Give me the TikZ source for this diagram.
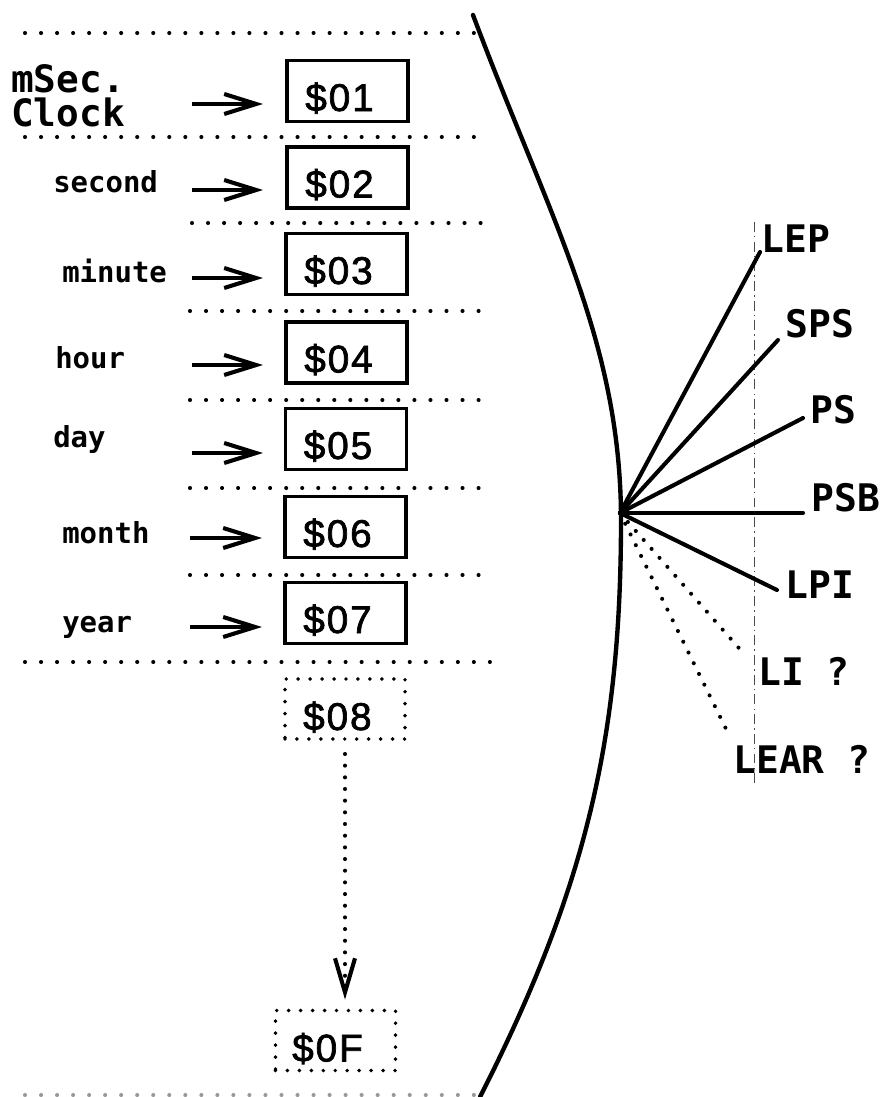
\documentclass[tikz,border=0pt]{standalone}
\usepackage{fontspec}
\newfontfamily\monof{DejaVu Sans Mono}
\newfontfamily\boxf[FakeBold=1.8,LetterSpace=5]{Liberation Sans}
\usetikzlibrary{arrows.meta}
\begin{document}
\begin{tikzpicture}[x=0.025cm,y=-0.025cm,
  sep/.style={line width=2.9pt, dash pattern=on 0pt off 11.4pt, line cap=round},
  regbox/.style={draw, line width=2.8pt, minimum width=3.025cm, minimum height=1.525cm,
     inner sep=0pt, text height=1.0cm, text depth=0pt, font=\boxf\fontsize{27.5}{30}\selectfont},
  dotbox/.style={draw, line width=2.8pt, dash pattern=on 0pt off 8.5pt, line cap=round,
     minimum width=3.0cm, minimum height=1.5cm,
     inner sep=0pt, text height=1.05cm, text depth=0pt, font=\boxf\fontsize{27.5}{30}\selectfont},
  lbl/.style={anchor=base west, inner sep=0pt, font=\monof\bfseries\fontsize{20.6}{24}\selectfont},
  clk/.style={anchor=base west, inner sep=0pt, font=\monof\bfseries\fontsize{26.8}{28}\selectfont},
  arr/.style={line width=2.9pt, -{Straight Barb[length=0.8cm,width=0.5cm,line width=2.9pt]}},
  fan/.style={line width=2.9pt, line cap=round},
  fandot/.style={line width=2.9pt, dash pattern=on 0pt off 8.5pt, line cap=round},
  flbl/.style={anchor=base west, inner sep=0pt, font=\monof\bfseries\fontsize{27}{30}\selectfont}
]
\useasboundingbox (0,0) rectangle (885,1097);

% separators
\draw[sep] (25,33) -- (475,33);
\draw[sep] (25,137) -- (475,137);
\draw[sep] (192,223) -- (487,223);
\draw[sep] (190,311) -- (485,311);
\draw[sep] (190,400) -- (485,400);
\draw[sep] (190,488) -- (485,488);
\draw[sep] (190,575) -- (485,575);
\draw[sep] (25,662) -- (493,662);
\draw[sep, draw=black!40] (25,1095) -- (475,1095);

% big arc
\draw[line width=3.1pt, line cap=round]
  (473,15) .. controls (548,215) and (621,340) .. (621,520)
           .. controls (621,740) and (585,890) .. (480,1097);

% registers
\node[regbox] (b1) at (347.5,91)  {\$01\rule{0.4cm}{0pt}};
\node[regbox] (b2) at (347.5,177.5) {\$02\rule{0.4cm}{0pt}};
\node[regbox] (b3) at (346.5,264) {\$03\rule{0.4cm}{0pt}};
\node[regbox] (b4) at (346.5,352.5) {\$04\rule{0.4cm}{0pt}};
\node[regbox] (b5) at (346,439)   {\$05\rule{0.4cm}{0pt}};
\node[regbox] (b6) at (345.5,527) {\$06\rule{0.4cm}{0pt}};
\node[regbox] (b7) at (345.5,613) {\$07\rule{0.4cm}{0pt}};
\node[dotbox] (b8) at (345,709)   {\$08\rule{0.38cm}{0pt}};
\node[dotbox] (bF) at (335.5,1040.5) {\$0F\rule{0.4cm}{0pt}};

% labels
\node[clk] (lm) at (11,93) {mSec.};
\node[clk] (lc) at (11,127) {Clock};
\node[lbl] (l2) at (53,193) {second};
\node[lbl] (l3) at (62,282) {minute};
\node[lbl] (l4) at (55,368) {hour};
\node[lbl] (l5) at (53,447) {day};
\node[lbl] (l6) at (62,543) {month};
\node[lbl] (l7) at (62,632) {year};

% arrows
\coordinate (s1) at (192,104); \coordinate (t1) at (263,104);
\coordinate (s2) at (192,190); \coordinate (t2) at (263,190);
\coordinate (s3) at (192,278); \coordinate (t3) at (263,278);
\coordinate (s4) at (192,365); \coordinate (t4) at (263,365);
\coordinate (s5) at (192,453); \coordinate (t5) at (263,453);
\coordinate (s6) at (190,538); \coordinate (t6) at (262,538);
\coordinate (s7) at (190,627); \coordinate (t7) at (262,627);
\foreach \i in {1,...,7} {\draw[arr] (s\i) -- (t\i);}

% dotted connector
\draw[line width=2.9pt, dash pattern=on 0pt off 8.3pt, line cap=round,
      shorten <=0.325cm, shorten >=0.225cm,
      -{Straight Barb[length=0.85cm,width=0.5cm,line width=2.9pt]}]
  (b8.south) -- (b8.south |- bF.north);

% fan
\coordinate (v) at (620,513);
\coordinate (eLEP) at (760,252);
\coordinate (eSPS) at (778,340);
\coordinate (ePS) at (803,418);
\coordinate (ePSB) at (803,513);
\coordinate (eLPI) at (777,590);
\coordinate (eLI) at (745,655);
\coordinate (eLEAR) at (730,737);
\draw[line width=0.4pt, draw=black!70, dash pattern=on 7pt off 3pt on 1pt off 3pt] (754,222) -- (754,785);
\draw[fan] (v) -- (eLEP);
\draw[fan] (v) -- (eSPS);
\draw[fan] (v) -- (ePS);
\draw[fan] (v) -- (ePSB);
\draw[fan] (v) -- (eLPI);
\draw[fandot] (v) -- (eLI);
\draw[fandot] (v) -- (eLEAR);

\node[flbl] (nLEP) at (761,252) {LEP};
\node[flbl] (nSPS) at (785,337) {SPS};
\node[flbl] (nPS) at (810,423) {PS};
\node[flbl] (nPSB) at (811,511) {PSB};
\node[flbl] (nLPI) at (785,598) {LPI};
\node[flbl] (nLI) at (758,685) {LI ?};
\node[flbl] (nLEAR) at (733,773) {LEAR ?};
\end{tikzpicture}
\end{document}
